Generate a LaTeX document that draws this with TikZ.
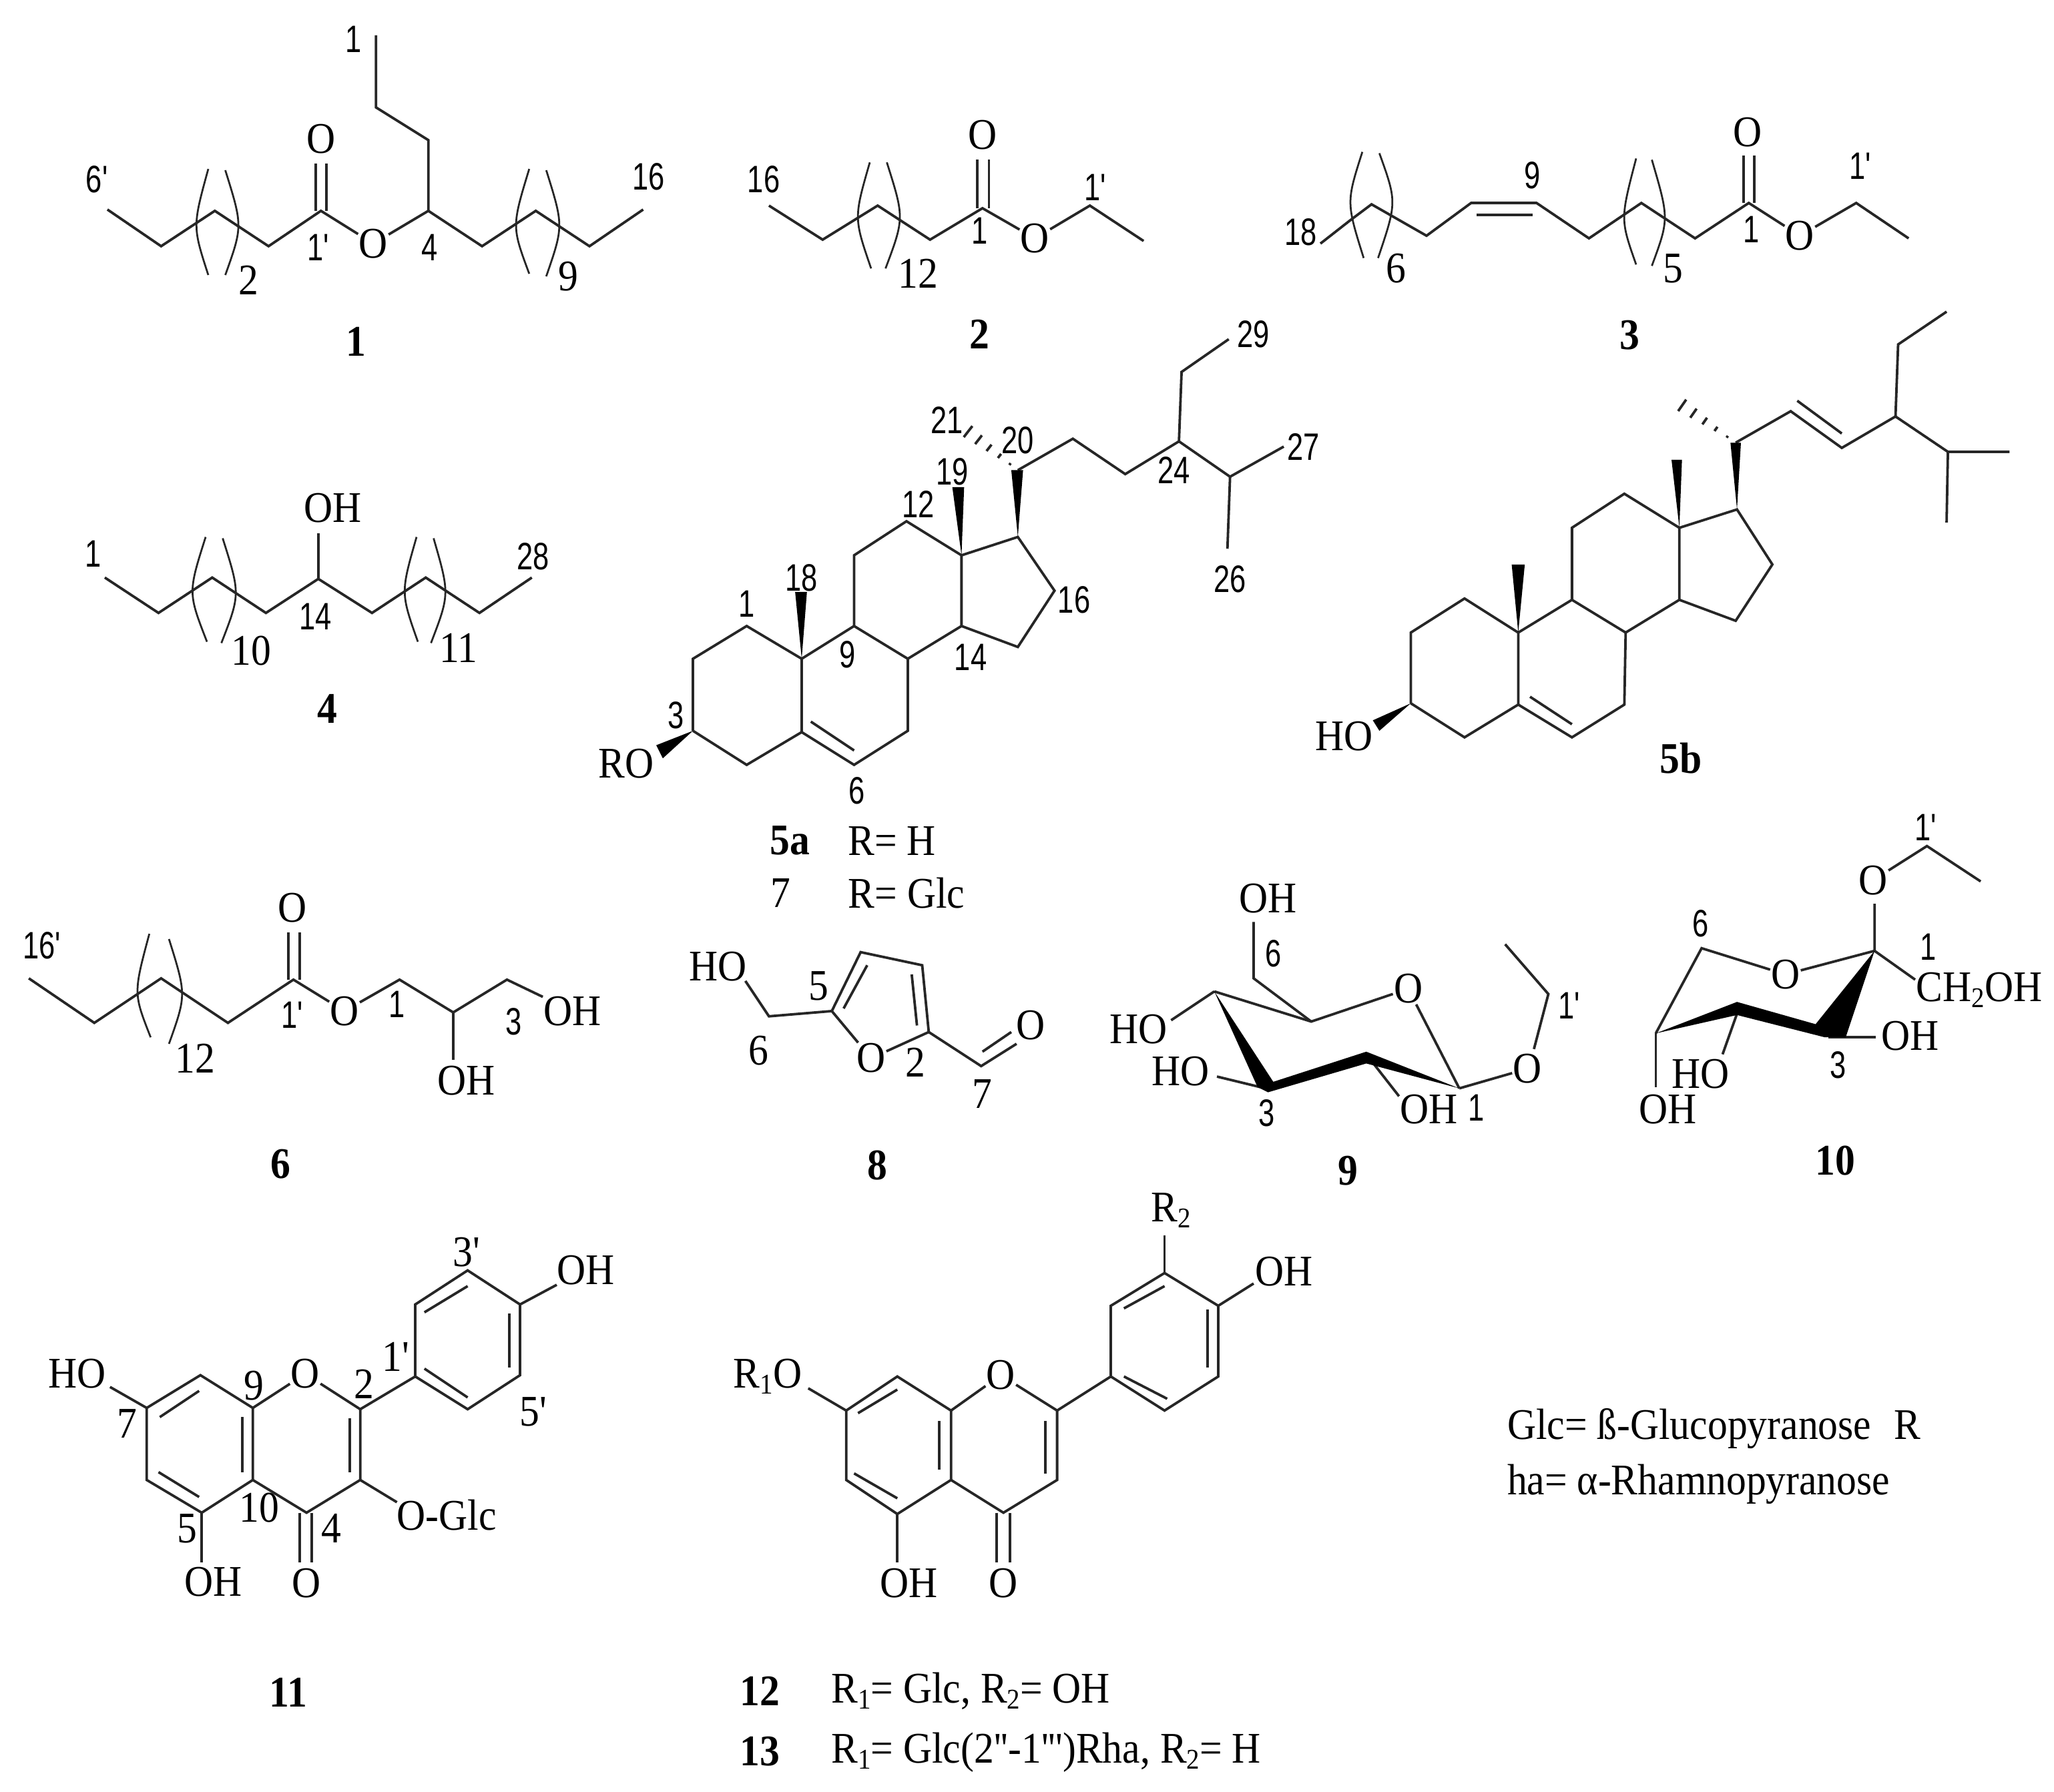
\documentclass[tikz,border=0pt]{standalone}
\usepackage{fontspec}
\usetikzlibrary{calc}
\newfontfamily\txfont[FakeStretch=0.91]{Liberation Serif}
\newfontfamily\numfont[FakeStretch=0.76]{Liberation Sans}
\newcommand{\lowidx}[1]{\raisebox{-0.3ex}{\fontsize{6.2}{6}\selectfont #1}}
\newcommand{\hashbond}[2]{%
    \foreach \t in {0.15,0.35,0.55,0.75,0.95} {
        \path (#1) -- (#2) coordinate[pos=\t] (hs);
        \draw[bond] ($(hs)!\t*1.6pt!90:(#2)$) -- ($(hs)!\t*1.6pt!-90:(#2)$);
    }}
\newcommand{\arcbr}[3]{%
    \draw[arcline] (#1) .. controls ($1.3333*(#2)-0.1667*(#1)-0.1667*(#3)$) and ($1.3333*(#2)-0.1667*(#1)-0.1667*(#3)$) .. (#3);}
\tikzset{
    bond/.style={line width=0.55pt, black!85},
    arcline/.style={line width=0.4pt, black!85},
    tx/.style={font=\txfont\fontsize{9.5}{10}\selectfont, inner sep=0pt},
    num/.style={font=\numfont\fontsize{8.3}{9}\selectfont, inner sep=0pt},
    idx/.style={font=\txfont\bfseries\fontsize{9.5}{10}\selectfont, inner sep=0pt}
}

\begin{document}
\begin{tikzpicture}[x=0.1mm, y=-0.1mm]
    \useasboundingbox (0,0) rectangle (1568,1368);

    % compound 1
    \node[tx] (oa) at (285,186) {O};
    \node[tx] (oac) at (245,106) {O};
    \draw[bond] (82,160) -- (123,188) -- (164,161) -- (205,188) -- (245,161) -- (oa);
    \draw[bond] (oa) -- (327,161) -- (368,188) -- (409,161) -- (450,188) -- (491,160);
    \draw[bond] (327,161) -- (327,107) -- (287,82) -- (287,27);
    \draw[bond] (241,161) -- (241,125);
    \draw[bond] (249,161) -- (249,125);
    \arcbr{159,129}{150,172}{159,210}
    \arcbr{172,130}{182,172}{172,210}
    \arcbr{404,129}{394,172}{404,209}
    \arcbr{417,130}{427,172}{417,211}
    \node[num] (la1) at (270,30) {1};
    \node[num] (la2) at (74,137) {6'};
    \node[tx] (la3) at (190,214) {2};
    \node[num] (la4) at (243,189) {1'};
    \node[num] (la5) at (328,189) {4};
    \node[tx] (la6) at (434,211) {9};
    \node[num] (la7) at (495,135) {16};
    \node[idx] (ta) at (272,261) {1};

    % compound 2
    \node[tx] (ob) at (790,182) {O};
    \node[tx] (obc) at (750,103) {O};
    \draw[bond] (587,157) -- (628,183) -- (670,157) -- (710,183) -- (750,159) -- (ob);
    \draw[bond] (ob) -- (832,157) -- (873,184);
    \draw[bond] (746,159) -- (746,122);
    \draw[bond] (755,159) -- (755,122);
    \arcbr{664,124}{655,166}{665,205}
    \arcbr{677,124}{687,166}{676,205}
    \node[num] (lb1) at (583,137) {16};
    \node[num] (lb2) at (748,176) {1};
    \node[num] (lb3) at (836,143) {1'};
    \node[tx] (lb4) at (701,209) {12};
    \node[idx] (tb) at (748,255) {2};

    % compound 3
    \node[tx] (oc) at (1374,180) {O};
    \node[tx] (occ) at (1334,101) {O};
    \draw[bond] (1008,186) -- (1031,168) -- (1047,156) -- (1089,180) -- (1123,155) -- (1173,155) -- (1213,182) -- (1253,155) -- (1294,182) -- (1335,155) -- (oc);
    \draw[bond] (oc) -- (1417,155) -- (1457,182);
    \draw[bond] (1127,164) -- (1170,164);
    \draw[bond] (1331,155) -- (1331,119);
    \draw[bond] (1339,155) -- (1339,119);
    \arcbr{1040,116}{1031,155}{1041,197}
    \arcbr{1053,117}{1063,155}{1052,197}
    \arcbr{1249,121}{1240,166}{1249,202}
    \arcbr{1261,122}{1271,166}{1261,203}
    \node[num] (lc1) at (993,177) {18};
    \node[num] (lc2) at (1170,134) {9};
    \node[tx] (lc3) at (1066,205) {6};
    \node[tx] (lc4) at (1277,205) {5};
    \node[num] (lc5) at (1337,175) {1};
    \node[num] (lc6) at (1420,127) {1'};
    \node[idx] (tc) at (1244,256) {3};

    % compound 4
    \node[tx] (ohd) at (254,388) {OH};
    \draw[bond] (80,441) -- (121,468) -- (162,441) -- (203,468) -- (243,442) -- (284,468) -- (325,441) -- (366,468) -- (406,441);
    \draw[bond] (243,442) -- (243,407);
    \arcbr{157,410}{147,452}{158,490}
    \arcbr{170,411}{180,453}{169,491}
    \arcbr{318,410}{309,452}{319,490}
    \arcbr{331,411}{340,453}{329,491}
    \node[num] (ld1) at (71,423) {1};
    \node[num] (ld2) at (407,425) {28};
    \node[num] (ld3) at (241,471) {14};
    \node[tx] (ld4) at (192,497) {10};
    \node[tx] (ld5) at (350,495) {11};
    \node[idx] (td) at (250,541) {4};

    % compound 5a
    \node[tx] (roe) at (478,583) {RO};
    \draw[bond] (529,558) -- (529,503) -- (570,478) -- (612,503) -- (612,559) -- (570,584) -- (529,558);
    \draw[bond] (612,559) -- (652,584) -- (693,558) -- (693,503) -- (652,478) -- (612,503);
    \draw[bond] (652,478) -- (652,424) -- (692,398) -- (734,424) -- (734,478) -- (693,503);
    \draw[bond] (734,424) -- (777,410) -- (805,451) -- (777,494) -- (734,478);
    \draw[bond] (619,551) -- (652,573);
    \draw[bond] (777,359) -- (819,335) -- (859,362) -- (900,337) -- (902,284) -- (938,259);
    \draw[bond] (900,337) -- (939,364) -- (980,341);
    \draw[bond] (939,364) -- (937,419);
    \fill (529,558) -- (501,569) -- (506,579) -- cycle;
    \fill (612,503) -- (607,452) -- (616,452) -- cycle;
    \fill (734,424) -- (727,372) -- (736,372) -- cycle;
    \fill (777,410) -- (772,359) -- (781,359) -- cycle;
    \coordinate (ha) at (777,359);
    \coordinate (hb) at (737,328);
    \hashbond{ha}{hb}
    \node[num] (le1) at (570,461) {1};
    \node[num] (le2) at (612,441) {18};
    \node[num] (le3) at (516,546) {3};
    \node[num] (le4) at (647,500) {9};
    \node[num] (le5) at (701,385) {12};
    \node[num] (le6) at (727,360) {19};
    \node[num] (le7) at (741,502) {14};
    \node[num] (le8) at (820,458) {16};
    \node[num] (le9) at (723,321) {21};
    \node[num] (le10) at (777,336) {20};
    \node[num] (le11) at (896,359) {24};
    \node[num] (le12) at (957,255) {29};
    \node[num] (le13) at (995,341) {27};
    \node[num] (le14) at (939,442) {26};
    \node[num] (le15) at (654,604) {6};
    \node[idx] (te) at (603,642) {5a};
    \node[tx] (re) at (681,642) {R= H};
    \node[tx] (tg) at (596,682) {7};
    \node[tx] (rg) at (692,682) {R= Glc};

    % compound 5b
    \node[tx] (hof) at (1026,562) {HO};
    \draw[bond] (1077,537) -- (1077,483) -- (1118,457) -- (1159,483) -- (1159,538) -- (1118,563) -- (1077,537);
    \draw[bond] (1159,538) -- (1200,563) -- (1240,538) -- (1241,483) -- (1200,458) -- (1159,483);
    \draw[bond] (1200,458) -- (1200,403) -- (1240,377) -- (1282,403) -- (1282,458) -- (1241,483);
    \draw[bond] (1282,403) -- (1326,389) -- (1353,431) -- (1325,474) -- (1282,458);
    \draw[bond] (1168,532) -- (1200,553);
    \draw[bond] (1325,338) -- (1367,314) -- (1406,342) -- (1447,318) -- (1449,263) -- (1486,238);
    \draw[bond] (1372,306) -- (1406,331);
    \draw[bond] (1447,318) -- (1487,345) -- (1534,345);
    \draw[bond] (1487,345) -- (1486,399);
    \fill (1077,537) -- (1048,550) -- (1053,558) -- cycle;
    \fill (1159,483) -- (1154,431) -- (1164,431) -- cycle;
    \fill (1282,403) -- (1276,351) -- (1284,351) -- cycle;
    \fill (1326,389) -- (1321,338) -- (1329,338) -- cycle;
    \coordinate (hc) at (1325,338);
    \coordinate (hd) at (1282,308);
    \hashbond{hc}{hd}
    \node[idx] (tf) at (1283,579) {5b};

    % compound 6
    \node[tx] (og) at (263,772) {O};
    \node[tx] (ogc) at (223,693) {O};
    \node[tx] (ohg) at (437,772) {OH};
    \node[tx] (ohh) at (356,825) {OH};
    \draw[bond] (22,747) -- (72,781) -- (123,747) -- (174,781) -- (224,748) -- (og);
    \draw[bond] (og) -- (305,748) -- (346,773) -- (387,748) -- (ohg);
    \draw[bond] (346,773) -- (346,809);
    \draw[bond] (220,748) -- (220,712);
    \draw[bond] (229,748) -- (229,712);
    \arcbr{114,713}{105,757}{115,792}
    \arcbr{129,717}{139,759}{129,797}
    \node[num] (lg1) at (32,722) {16'};
    \node[tx] (lg2) at (149,808) {12};
    \node[num] (lg3) at (223,775) {1'};
    \node[num] (lg4) at (303,767) {1};
    \node[num] (lg5) at (392,780) {3};
    \node[idx] (tgb) at (214,889) {6};

    % compound 8
    \node[tx] (hoi) at (548,738) {HO};
    \node[tx] (oi) at (665,808) {O};
    \node[tx] (oic) at (787,783) {O};
    \draw[bond] (569,749) -- (587,776) -- (635,772) -- (657,727) -- (704,737) -- (709,788) -- (oi) -- (635,772);
    \draw[bond] (709,788) -- (749,814) -- (776,797);
    \draw[bond] (750,803) -- (772,788);
    \draw[bond] (644,770) -- (662,737);
    \draw[bond] (696,744) -- (700,783);
    \node[tx] (li1) at (625,753) {5};
    \node[tx] (li2) at (579,802) {6};
    \node[tx] (li3) at (699,811) {2};
    \node[tx] (li4) at (750,835) {7};
    \node[idx] (ti) at (670,890) {8};

    % compound 9
    \node[tx] (ohj) at (968,686) {OH};
    \node[tx] (hoj) at (869,786) {HO};
    \node[tx] (hok) at (901,818) {HO};
    \node[tx] (ohk) at (1091,847) {OH};
    \node[tx] (oj) at (1075,755) {O};
    \node[tx] (ok) at (1166,816) {O};
    \draw[bond] (957,704) -- (957,747) -- (1001,780);
    \draw[bond] (927,757) -- (1001,780) -- (oj) -- (1114,831);
    \draw[bond] (927,757) -- (894,779);
    \draw[bond] (929,822) -- (966,831);
    \draw[bond] (1043,805) -- (1068,837);
    \draw[bond] (1114,831) -- (ok);
    \draw[bond] (1171,801) -- (1182,759) -- (1149,721);
    \fill (927,757) -- (972,826) -- (1043,803) -- (1114,831) -- (1043,812) -- (968,834) -- (960,830) -- cycle;
    \node[num] (lj1) at (972,728) {6};
    \node[num] (lj2) at (1198,768) {1'};
    \node[num] (lj3) at (967,850) {3};
    \node[num] (lj4) at (1127,846) {1};
    \node[idx] (tj) at (1029,894) {9};

    % compound 10
    \node[tx] (ol) at (1430,672) {O};
    \node[tx] (om) at (1363,744) {O};
    \node[tx] (chl) at (1511,756) {CH\lowidx{2}OH};
    \node[tx] (ohl) at (1458,791) {OH};
    \node[tx] (hol) at (1298,820) {HO};
    \node[tx] (ohm) at (1273,847) {OH};
    \draw[bond] (ol) -- (1471,646) -- (1512,673);
    \draw[bond] (1431,690) -- (1431,726) -- (om) -- (1299,724) -- (1264,789);
    \draw[bond] (1431,726) -- (1462,748);
    \draw[bond] (1396,792) -- (1432,792);
    \draw[bond] (1326,774) -- (1315,805);
    \draw[bond] (1264,789) -- (1264,830);
    \fill (1264,789) -- (1326,765) -- (1386,782) -- (1431,726) -- (1409,792) -- (1393,792) -- (1326,775) -- cycle;
    \node[num] (ll1) at (1470,632) {1'};
    \node[num] (ll2) at (1472,723) {1};
    \node[num] (ll3) at (1298,705) {6};
    \node[num] (ll4) at (1403,813) {3};
    \node[idx] (tl) at (1401,886) {10};

    % compound 11
    \node[tx] (on) at (233,1049) {O};
    \node[tx] (onc) at (234,1209) {O};
    \node[tx] (ohn) at (447,970) {OH};
    \node[tx] (hon) at (59,1049) {HO};
    \node[tx] (ohp) at (163,1208) {OH};
    \node[tx] (glc) at (341,1157) {O-Glc};
    \draw[bond] (112,1075) -- (153,1050) -- (193,1075) -- (193,1130) -- (154,1155) -- (112,1130) -- cycle;
    \draw[bond] (193,1075) -- (on) -- (275,1076) -- (275,1130) -- (234,1155) -- (193,1130);
    \draw[bond] (275,1076) -- (317,1051) -- (317,996) -- (357,970) -- (397,996) -- (397,1050) -- (357,1076) -- (317,1051);
    \draw[bond] (397,996) -- (425,981);
    \draw[bond] (84,1059) -- (112,1075);
    \draw[bond] (122,1082) -- (152,1062);
    \draw[bond] (185,1082) -- (185,1124);
    \draw[bond] (267,1083) -- (267,1124);
    \draw[bond] (121,1124) -- (152,1143);
    \draw[bond] (324,1002) -- (357,982);
    \draw[bond] (389,1003) -- (389,1044);
    \draw[bond] (324,1045) -- (357,1067);
    \draw[bond] (229,1155) -- (229,1193);
    \draw[bond] (238,1155) -- (238,1193);
    \draw[bond] (154,1155) -- (154,1193);
    \draw[bond] (275,1130) -- (303,1147);
    \node[tx] (ln1) at (194,1058) {9};
    \node[tx] (ln2) at (278,1057) {2};
    \node[tx] (ln3) at (302,1036) {1'};
    \node[tx] (ln4) at (356,956) {3'};
    \node[tx] (ln5) at (407,1078) {5'};
    \node[tx] (ln6) at (97,1087) {7};
    \node[tx] (ln7) at (143,1167) {5};
    \node[tx] (ln8) at (198,1151) {10};
    \node[tx] (ln9) at (253,1167) {4};
    \node[idx] (tn) at (220,1292) {11};

    % compounds 12 and 13
    \node[tx] (oq) at (764,1050) {O};
    \node[tx] (oqc) at (766,1209) {O};
    \node[tx] (r2) at (894,924) {R\lowidx{2}};
    \node[tx] (ohq) at (980,971) {OH};
    \node[tx] (r1o) at (586,1051) {R\lowidx{1}O};
    \node[tx] (ohr) at (694,1209) {OH};
    \draw[bond] (646,1077) -- (685,1051) -- (726,1077) -- (726,1130) -- (685,1156) -- (646,1130) -- cycle;
    \draw[bond] (726,1077) -- (oq) -- (807,1077) -- (807,1130) -- (766,1155) -- (726,1130);
    \draw[bond] (807,1077) -- (848,1051) -- (848,997) -- (889,972) -- (930,997) -- (930,1051) -- (889,1077) -- (848,1051);
    \draw[bond] (889,972) -- (889,943);
    \draw[bond] (930,997) -- (957,980);
    \draw[bond] (617,1060) -- (646,1077);
    \draw[bond] (655,1079) -- (685,1061);
    \draw[bond] (717,1085) -- (717,1122);
    \draw[bond] (798,1085) -- (798,1125);
    \draw[bond] (652,1125) -- (685,1144);
    \draw[bond] (858,999) -- (889,982);
    \draw[bond] (922,1000) -- (922,1044);
    \draw[bond] (858,1051) -- (891,1068);
    \draw[bond] (761,1155) -- (761,1193);
    \draw[bond] (771,1155) -- (771,1193);
    \draw[bond] (685,1156) -- (685,1193);
    \node[idx] (tq) at (580,1291) {12};
    \node[tx, anchor=base west] (rq) at (634,1300) {R\lowidx{1}= Glc, R\lowidx{2}= OH};
    \node[idx] (tr) at (580,1337) {13};
    \node[tx, anchor=base west] (rr) at (634,1346) {R\lowidx{1}= Glc(2''-1''')Rha, R\lowidx{2}= H};

    % legend
    \node[tx, anchor=base west] (gl) at (1150,1099) {Glc= ß-Glucopyranose\hspace{5pt}R};
    \node[tx, anchor=base west] (ha) at (1150,1141) {ha= α-Rhamnopyranose};
\end{tikzpicture}
\end{document}
